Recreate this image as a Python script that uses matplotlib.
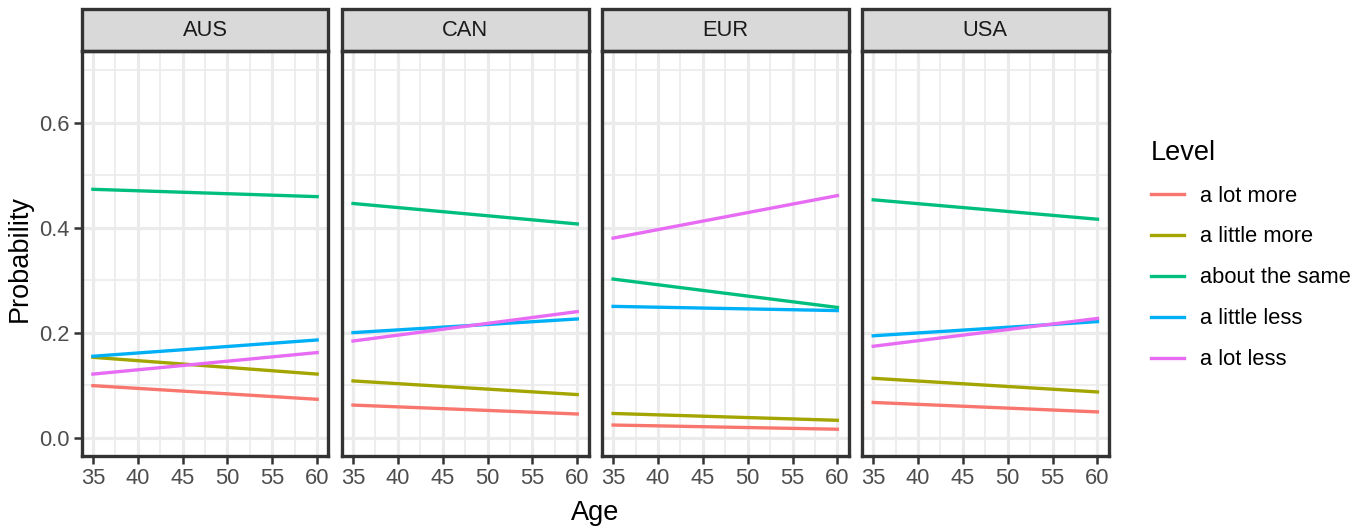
import matplotlib.pyplot as plt
from matplotlib.patches import Rectangle

plt.rcParams['font.family'] = ['Liberation Sans', 'DejaVu Sans']

regions = ["AUS", "CAN", "EUR", "USA"]
levels = ["a lot more", "a little more", "about the same", "a little less", "a lot less"]
colors = ["#F8766D", "#A3A500", "#00BF7D", "#00B0F6", "#E76BF3"]
ages = [35, 60]

# predicted probability at age 35 and 60, per region, per level
aus = {
    "a lot more": [0.099, 0.073],
    "a little more": [0.153, 0.121],
    "about the same": [0.473, 0.459],
    "a little less": [0.155, 0.186],
    "a lot less": [0.121, 0.162],
}
can = {
    "a lot more": [0.062, 0.045],
    "a little more": [0.108, 0.082],
    "about the same": [0.446, 0.407],
    "a little less": [0.200, 0.226],
    "a lot less": [0.184, 0.240],
}
eur = {
    "a lot more": [0.024, 0.016],
    "a little more": [0.046, 0.033],
    "about the same": [0.302, 0.248],
    "a little less": [0.250, 0.242],
    "a lot less": [0.380, 0.461],
}
usa = {
    "a lot more": [0.067, 0.049],
    "a little more": [0.113, 0.087],
    "about the same": [0.453, 0.416],
    "a little less": [0.194, 0.221],
    "a lot less": [0.174, 0.227],
}
data = [aus, can, eur, usa]

fig = plt.figure(figsize=(9.1, 3.54), dpi=150)

left0 = 81.7 / 1365
pitch = 260.1 / 1365
width = 246.7 / 1365
bottom = 1 - 456 / 531
height = (456 - 50.7) / 531
strip_h = 41.4 / 405.3

axes = []
for i, (reg, d) in enumerate(zip(regions, data)):
    ax = fig.add_axes([left0 + i * pitch, bottom, width, height])
    axes.append(ax)
    for lev, col in zip(levels, colors):
        ax.plot(ages, d[lev], color=col, linewidth=1.6, label=lev, zorder=3)
    ax.set_xlim(33.75, 61.25)
    ax.set_ylim(-0.035, 0.737)
    ax.set_xticks([35, 40, 45, 50, 55, 60])
    ax.set_xticks([37.5, 42.5, 47.5, 52.5, 57.5], minor=True)
    ax.set_yticks([0.0, 0.2, 0.4, 0.6])
    ax.set_yticks([0.1, 0.3, 0.5, 0.7], minor=True)
    ax.yaxis.set_major_formatter(plt.FuncFormatter(lambda v, p: f"{v:.1f}"))
    ax.grid(True, which='major', color='#EBEBEB', linewidth=1.5, zorder=0)
    ax.grid(True, which='minor', color='#EBEBEB', linewidth=0.8, zorder=0)
    ax.set_axisbelow(True)
    for s in ax.spines.values():
        s.set_color('#333333')
        s.set_linewidth(1.6)
    ax.tick_params(which='major', length=4, width=1.2, color='#333333',
                   labelsize=10.5, labelcolor='#4D4D4D', pad=2)
    ax.tick_params(which='minor', length=0)
    if i > 0:
        ax.tick_params(axis='y', which='both', left=False, labelleft=False)
    strip = Rectangle((0, 1), 1, strip_h, transform=ax.transAxes, facecolor='#D9D9D9',
                      edgecolor='#333333', linewidth=1.6, clip_on=False)
    ax.add_patch(strip)
    ax.text(0.5, 1 + strip_h / 2, reg, transform=ax.transAxes, ha='center', va='center',
            fontsize=10.5, color='#1A1A1A')

fig.text(20 / 1365, 1 - 258 / 531, "Probability", ha='center', va='center',
         rotation=90, fontsize=13)
fig.text(595 / 1365, 1 - 513 / 531, "Age", ha='center', va='center', fontsize=13)

handles, labels = axes[0].get_legend_handles_labels()
leg = fig.legend(handles, labels, title="Level", loc='upper left',
                 bbox_to_anchor=(1131 / 1365, 1 - 120 / 531), frameon=False,
                 fontsize=10.5, title_fontsize=13, handlelength=1.5,
                 handletextpad=0.75, labelspacing=0.91)
leg._legend_box.align = "left"

fig.savefig("out.png", dpi=150)
